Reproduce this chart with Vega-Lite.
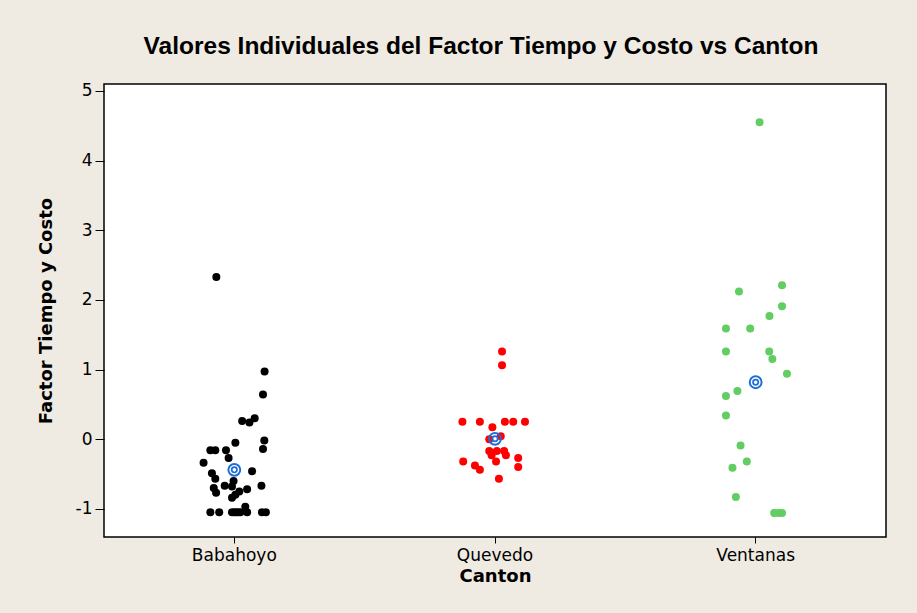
{
  "$schema": "https://vega.github.io/schema/vega-lite/v6.json",
  "autosize": {"type": "none"},
  "width": 782,
  "height": 453,
  "padding": {"left": 104, "top": 84, "right": 31, "bottom": 76},
  "background": "#EFEBE2",
  "title": {
    "text": "Valores Individuales del Factor Tiempo y Costo vs Canton",
    "font": "Liberation Sans",
    "fontSize": 24.5,
    "fontWeight": "bold",
    "color": "black",
    "offset": 22,
    "dx": -14
  },
  "config": {
    "view": {"stroke": "black", "strokeWidth": 1.5, "fill": "white"},
    "axis": {
      "labelFont": "DejaVu Sans",
      "labelFontSize": 17,
      "labelColor": "black",
      "titleFont": "DejaVu Sans",
      "titleFontSize": 18,
      "titleFontWeight": "bold",
      "titleColor": "black",
      "tickColor": "black",
      "domain": false,
      "grid": false
    }
  },
  "data": {
    "values": [
      {"Canton": "Babahoyo", "value": 2.33, "jitter": -0.069},
      {"Canton": "Babahoyo", "value": 0.97, "jitter": 0.116},
      {"Canton": "Babahoyo", "value": 0.64, "jitter": 0.110},
      {"Canton": "Babahoyo", "value": 0.26, "jitter": 0.030},
      {"Canton": "Babahoyo", "value": 0.24, "jitter": 0.058},
      {"Canton": "Babahoyo", "value": 0.30, "jitter": 0.078},
      {"Canton": "Babahoyo", "value": -0.05, "jitter": 0.004},
      {"Canton": "Babahoyo", "value": -0.02, "jitter": 0.115},
      {"Canton": "Babahoyo", "value": -0.14, "jitter": 0.110},
      {"Canton": "Babahoyo", "value": -0.16, "jitter": -0.092},
      {"Canton": "Babahoyo", "value": -0.16, "jitter": -0.073},
      {"Canton": "Babahoyo", "value": -0.16, "jitter": -0.032},
      {"Canton": "Babahoyo", "value": -0.27, "jitter": -0.022},
      {"Canton": "Babahoyo", "value": -0.34, "jitter": -0.118},
      {"Canton": "Babahoyo", "value": -0.46, "jitter": 0.068},
      {"Canton": "Babahoyo", "value": -0.49, "jitter": -0.086},
      {"Canton": "Babahoyo", "value": -0.57, "jitter": -0.073},
      {"Canton": "Babahoyo", "value": -0.60, "jitter": -0.003},
      {"Canton": "Babahoyo", "value": -0.67, "jitter": -0.037},
      {"Canton": "Babahoyo", "value": -0.68, "jitter": -0.009},
      {"Canton": "Babahoyo", "value": -0.67, "jitter": 0.104},
      {"Canton": "Babahoyo", "value": -0.70, "jitter": -0.079},
      {"Canton": "Babahoyo", "value": -0.77, "jitter": -0.070},
      {"Canton": "Babahoyo", "value": -0.72, "jitter": 0.049},
      {"Canton": "Babahoyo", "value": -0.75, "jitter": 0.019},
      {"Canton": "Babahoyo", "value": -0.80, "jitter": 0.004},
      {"Canton": "Babahoyo", "value": -0.84, "jitter": -0.009},
      {"Canton": "Babahoyo", "value": -0.97, "jitter": 0.042},
      {"Canton": "Babahoyo", "value": -1.05, "jitter": -0.092},
      {"Canton": "Babahoyo", "value": -1.05, "jitter": -0.058},
      {"Canton": "Babahoyo", "value": -1.05, "jitter": -0.009},
      {"Canton": "Babahoyo", "value": -1.05, "jitter": 0.000},
      {"Canton": "Babahoyo", "value": -1.05, "jitter": 0.007},
      {"Canton": "Babahoyo", "value": -1.05, "jitter": 0.015},
      {"Canton": "Babahoyo", "value": -1.05, "jitter": 0.023},
      {"Canton": "Babahoyo", "value": -1.05, "jitter": 0.049},
      {"Canton": "Babahoyo", "value": -1.05, "jitter": 0.106},
      {"Canton": "Babahoyo", "value": -1.05, "jitter": 0.121},
      {"Canton": "Quevedo", "value": 1.26, "jitter": 0.027},
      {"Canton": "Quevedo", "value": 1.06, "jitter": 0.027},
      {"Canton": "Quevedo", "value": 0.25, "jitter": -0.125},
      {"Canton": "Quevedo", "value": 0.25, "jitter": -0.058},
      {"Canton": "Quevedo", "value": 0.25, "jitter": 0.038},
      {"Canton": "Quevedo", "value": 0.25, "jitter": 0.070},
      {"Canton": "Quevedo", "value": 0.25, "jitter": 0.115},
      {"Canton": "Quevedo", "value": 0.17, "jitter": -0.010},
      {"Canton": "Quevedo", "value": 0.00, "jitter": -0.022},
      {"Canton": "Quevedo", "value": 0.04, "jitter": 0.022},
      {"Canton": "Quevedo", "value": -0.17, "jitter": -0.022},
      {"Canton": "Quevedo", "value": -0.17, "jitter": 0.007},
      {"Canton": "Quevedo", "value": -0.17, "jitter": 0.035},
      {"Canton": "Quevedo", "value": -0.23, "jitter": -0.013},
      {"Canton": "Quevedo", "value": -0.23, "jitter": 0.042},
      {"Canton": "Quevedo", "value": -0.27, "jitter": 0.089},
      {"Canton": "Quevedo", "value": -0.32, "jitter": -0.122},
      {"Canton": "Quevedo", "value": -0.32, "jitter": 0.004},
      {"Canton": "Quevedo", "value": -0.38, "jitter": -0.077},
      {"Canton": "Quevedo", "value": -0.44, "jitter": -0.058},
      {"Canton": "Quevedo", "value": -0.40, "jitter": 0.089},
      {"Canton": "Quevedo", "value": -0.57, "jitter": 0.015},
      {"Canton": "Ventanas", "value": 4.55, "jitter": 0.015},
      {"Canton": "Ventanas", "value": 2.21, "jitter": 0.101},
      {"Canton": "Ventanas", "value": 2.12, "jitter": -0.064},
      {"Canton": "Ventanas", "value": 1.91, "jitter": 0.101},
      {"Canton": "Ventanas", "value": 1.77, "jitter": 0.053},
      {"Canton": "Ventanas", "value": 1.59, "jitter": -0.114},
      {"Canton": "Ventanas", "value": 1.59, "jitter": -0.021},
      {"Canton": "Ventanas", "value": 1.26, "jitter": -0.114},
      {"Canton": "Ventanas", "value": 1.26, "jitter": 0.052},
      {"Canton": "Ventanas", "value": 1.15, "jitter": 0.064},
      {"Canton": "Ventanas", "value": 0.94, "jitter": 0.120},
      {"Canton": "Ventanas", "value": 0.69, "jitter": -0.070},
      {"Canton": "Ventanas", "value": 0.62, "jitter": -0.114},
      {"Canton": "Ventanas", "value": 0.34, "jitter": -0.114},
      {"Canton": "Ventanas", "value": -0.09, "jitter": -0.058},
      {"Canton": "Ventanas", "value": -0.32, "jitter": -0.034},
      {"Canton": "Ventanas", "value": -0.41, "jitter": -0.089},
      {"Canton": "Ventanas", "value": -0.83, "jitter": -0.076},
      {"Canton": "Ventanas", "value": -1.06, "jitter": 0.071},
      {"Canton": "Ventanas", "value": -1.06, "jitter": 0.087},
      {"Canton": "Ventanas", "value": -1.06, "jitter": 0.101}
    ]
  },
  "encoding": {
    "x": {
      "field": "Canton",
      "type": "nominal",
      "sort": ["Babahoyo", "Quevedo", "Ventanas"],
      "scale": {"paddingInner": 0, "paddingOuter": 0},
      "axis": {"labelAngle": 0, "tickSize": 6, "labelPadding": 4, "titlePadding": 4, "title": "Canton"}
    },
    "y": {
      "field": "value",
      "type": "quantitative",
      "scale": {"domain": [-1.405, 5.1], "nice": false, "zero": false},
      "axis": {"values": [-1, 0, 1, 2, 3, 4, 5], "labelExpr": "'' + datum.value", "tickSize": 9, "labelPadding": 3, "titlePadding": 20, "title": "Factor Tiempo y Costo"}
    }
  },
  "layer": [
    {
      "mark": {"type": "circle", "size": 64, "opacity": 1},
      "encoding": {
        "xOffset": {"field": "jitter", "type": "quantitative", "scale": {"domain": [-0.5, 0.5]}},
        "color": {
          "field": "Canton",
          "type": "nominal",
          "scale": {"domain": ["Babahoyo", "Quevedo", "Ventanas"], "range": ["#000000", "#FF0000", "#62CD62"]},
          "legend": null
        }
      }
    },
    {
      "mark": {"type": "point", "shape": "circle", "size": 140, "strokeWidth": 2, "color": "#1C6FD8", "filled": false, "opacity": 1},
      "encoding": {"y": {"aggregate": "mean", "field": "value", "type": "quantitative"}}
    },
    {
      "mark": {"type": "point", "shape": "circle", "size": 28, "strokeWidth": 1.7, "color": "#1C6FD8", "filled": false, "opacity": 1},
      "encoding": {"y": {"aggregate": "mean", "field": "value", "type": "quantitative"}}
    }
  ]
}
